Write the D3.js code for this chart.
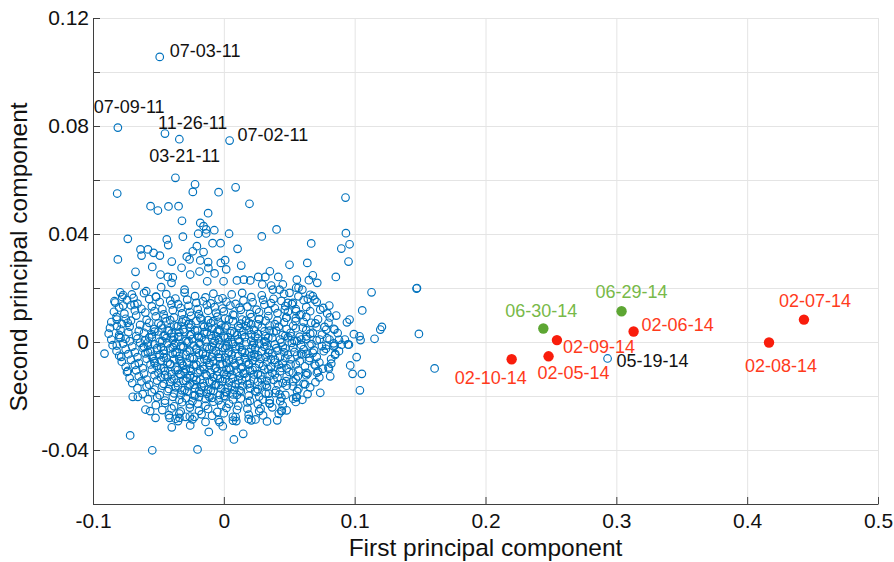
<html>
  <head>
    <style>
      body {
        margin: 0;
        background: #fff;
        font-family: "Liberation Sans", Arial, Helvetica, sans-serif;
      }
      svg {
        display: block;
      }
      .grid line {
        stroke: #e4e4e4;
        stroke-width: 1;
      }
      .axis path,
      .axis line {
        stroke: #3f3f3f;
      }
      .axis text {
        font-size: 21px;
        fill: #111;
        font-family: "Liberation Sans", Arial, Helvetica, sans-serif;
      }
      .score {
        fill: none;
        stroke: #0072bd;
        stroke-width: 1.15;
      }
      .axis-title {
        font-size: 24.5px;
        fill: #111;
        text-anchor: middle;
      }
      .date-label {
        font-size: 18px;
      }
    </style>
  </head>
  <body>
    <script src="https://d3js.org/d3.v7.min.js"></script>
    <script>
      // [first PC, second PC] for each day
      const upperScores = [
        [-.037,.0608],[-.022,.0584],[-.0237,.0556],[-.004,.0555],[.009,.0573],[-.0815,.055],
        [.0196,.0512],[-.056,.0503],[-.0504,.0487],[-.0423,.0502],[-.0346,.0503],[-.012,.0477],
        [-.032,.0449],[-.018,.0441],[-.0155,.0429],[-.0135,.0417],[-.0073,.0414],[-.0196,.0401],
        [-.0135,.0402],[.004,.0401],[.0403,.0417],[.029,.0391],[-.0734,.0382],[-.0436,.038],
        [-.0425,.0359],[-.0313,.039],[-.0086,.0366],[-.0025,.0366],[.0105,.0345],[-.081,.0306],
        [-.0637,.0343],[-.058,.0343],[-.0537,.033],[-.0489,.032],[-.0629,.032],[-.0398,.0298],
        [-.0283,.0316],[-.0206,.0355],[-.0237,.0336],[-.0155,.0333],[-.0262,.0306],[-.018,.0302],
        [-.012,.0296],[-.0023,.0293],[.001,.0303],[.0133,.0283],[.0502,.0286],[-.0547,.0278],
        [-.0675,.026],[-.0323,.0275],[-.0186,.0261],[-.0118,.0274],[.0018,.0269],[.0352,.0262],
        [-.0484,.025],[-.0428,.0241],[-.039,.0239],[-.0257,.025],[-.0071,.0254],[.01,.0228],
        [.0153,.0231],[.0263,.0241],[.0317,.0241],[.0416,.0241],[-.0675,.0209],[-.0479,.0203],
        [-.04,.0219],[-.03,.0194],[-.0127,.0225],[-.0002,.0225],[.0202,.0228],[.0294,.0213],
        [.0362,.0209],[.0426,.0194],[.0553,.0201],[-.0836,.0151],[-.0792,.0184],[-.0777,.0167],
        [-.0703,.0176],[-.0593,.0188],[-.0517,.0167],[-.0769,.0135],[-.0683,.0139],[-.0818,.0083],
        [-.0818,.0059],[-.0734,.0071],[-.08,.0018],[-.0751,.0012]
      ];
      const rightScores = [
        [.0668,.0365],[.0898,.0346],[.0961,.0362],[.0953,.0298],[.0638,.0293],[.093,.0535],
        [.0933,.0403],[.0856,.0241],[.068,.0247],[.065,.0229],[.0714,.0219],[.0558,.0231],
        [.0571,.0201],[.06,.0194],[.1129,.0184],[.1473,.0198],[.1476,.02],[.068,.017],
        [.0693,.0157],[.0642,.016],[.0737,.012],[.0806,.0135],[.0859,.0098],[.1058,.0117],
        [.0961,.0083],[.0941,.0073],[.0846,.0046],[.1208,.0056],[.1196,.0046],[.1491,.003],
        [.0994,.0029],[.1037,.0021],[.1045,.0007],[.1152,.0012],[.0925,.0009],[.0956,-.001],
        [.0846,-.0013],[.0783,.0046],[.077,.0056],[.0668,.0071],[.0604,.0053],[.0548,.0077],
        [.0592,.0102],[.0477,.009],[.0466,.012],[.0528,.0145],[.0553,.0114],[.0489,.0145],
        [.0502,.0182],[.0451,.0213],[.0375,.0194],[.063,.0021],[.068,.0034],[.0732,.0009],
        [.0808,.0009],[.0783,-.0013],[.0655,-.0013],[.0592,.0009],[.0515,.0021],[.0948,-.0009],
        [.1015,-.0056],[.0966,-.0087],[.0984,-.0118],[.1055,-.0118],[.104,-.0179],[.1611,-.0098],
        [.0852,-.0044],[.0813,-.0127],[.0821,-.008],[.0757,-.0099],[.0803,-.0099],[.0711,-.0114],
        [.0764,-.0034],[.0839,-.0016],[.0737,-.0188],[.0558,-.0204],[.0622,-.0157],[.0693,-.0083],
        [.0655,-.0059],[.068,-.004],[.06,-.0046],[.063,-.0114],[.0443,-.0254],[.0431,-.0219],
        [.0426,-.0194],[.0344,-.0191],[.0298,-.0213],[.0413,-.0157],[.0477,-.0145],[.0528,-.0164],
        [.0566,-.0127],[.0528,-.0114]
      ];
      const lowerScores = [
        [-.0912,-.0043],[-.0818,-.0013],[-.0784,-.0055],[-.0734,-.0107],[-.0696,-.0203],
        [-.0657,-.0203],[-.0599,-.025],[-.0563,-.0256],[-.0522,-.0281],[-.0716,-.0346],
        [-.0547,-.0401],[-.0201,-.0398],[-.0398,-.0316],[-.0257,-.0309],[-.0115,-.0333],
        [-.0008,-.0312],[-.0033,-.0297],[.0077,-.0361],[.0148,-.034],[.021,-.029],[.0242,-.0287],
        [.0408,-.029],[.0439,-.0256],[-.0415,-.0281],[-.0369,-.0284],[-.0339,-.0281],
        [-.0293,-.0277],[-.0224,-.0277],[.0069,-.0277],[.0095,-.0293],[.0281,-.0247],
        [.035,-.0228],[.0553,-.0204]
      ];
      const coreScores = [
        [-.077,.0174],[-.069,.0163],[-.061,.0181],[-.052,.0168],[-.044,.0177],[-.037,.0161],[-.030,.0183],[-.022,.0170],[-.014,.0165],[-.008,.0179],[-.001,.0162],[.006,.0176],[.014,.0182],[.021,.0166],[.029,.0173],[.038,.0160],[.046,.0178],[.057,.0169],[.066,.0175],
        [-.083,.0146],[-.074,.0155],[-.066,.0142],[-.057,.0159],[-.049,.0148],[-.041,.0153],[-.035,.0140],[-.028,.0157],[-.021,.0145],[-.016,.0151],[-.010,.0143],[-.004,.0158],[.002,.0149],[.009,.0141],[.015,.0154],[.022,.0147],[.030,.0156],[.036,.0144],[.044,.0152],[.052,.0140],[.061,.0155],[.071,.0148],
        [-.080,.0128],[-.071,.0136],[-.063,.0123],[-.055,.0132],[-.047,.0121],[-.040,.0139],[-.033,.0126],[-.027,.0134],[-.020,.0122],[-.013,.0137],[-.007,.0129],[-.001,.0124],[.005,.0135],[.012,.0127],[.018,.0131],[.025,.0120],[.031,.0138],[.039,.0125],[.047,.0133],[.055,.0122],[.063,.0130],[.076,.0126],
        [-.084,.0112],[-.076,.0105],[-.068,.0117],[-.060,.0109],[-.053,.0114],[-.046,.0102],[-.039,.0118],[-.032,.0106],[-.026,.0111],[-.019,.0103],[-.012,.0116],[-.006,.0108],[.000,.0113],[.007,.0101],[.013,.0119],[.020,.0104],[.027,.0110],[.034,.0115],[.041,.0107],[.049,.0112],[.058,.0100],[.066,.0114],[.079,.0106],
        [-.082,.0093],[-.075,.0086],[-.067,.0098],[-.059,.0082],[-.052,.0095],[-.045,.0088],[-.038,.0091],[-.031,.0084],[-.025,.0097],[-.018,.0089],[-.012,.0081],[-.005,.0094],[.001,.0087],[.008,.0099],[.014,.0083],[.021,.0092],[.027,.0085],[.034,.0096],[.041,.0080],[.048,.0090],[.055,.0088],[.063,.0093],[.072,.0084],[.081,.0091],
        [-.086,.0074],[-.078,.0067],[-.071,.0079],[-.064,.0063],[-.057,.0071],[-.050,.0069],[-.044,.0076],[-.038,.0062],[-.032,.0073],[-.027,.0066],[-.021,.0078],[-.016,.0064],[-.010,.0070],[-.004,.0075],[.002,.0061],[.007,.0077],[.013,.0068],[.019,.0072],[.026,.0065],[.032,.0079],[.039,.0066],[.046,.0073],[.053,.0060],[.061,.0074],[.070,.0069],[.080,.0071],
        [-.087,.0052],[-.079,.0046],[-.072,.0057],[-.065,.0041],[-.059,.0055],[-.053,.0048],[-.047,.0050],[-.042,.0043],[-.036,.0058],[-.031,.0047],[-.026,.0053],[-.020,.0042],[-.015,.0056],[-.009,.0049],[-.004,.0044],[.001,.0054],[.006,.0040],[.012,.0051],[.017,.0059],[.023,.0045],[.029,.0053],[.035,.0042],[.042,.0057],[.048,.0048],[.055,.0051],[.063,.0044],[.071,.0055],[.084,.0049],
        [-.088,.0031],[-.080,.0026],[-.073,.0036],[-.067,.0022],[-.061,.0034],[-.055,.0028],[-.050,.0039],[-.045,.0024],[-.040,.0032],[-.035,.0020],[-.030,.0037],[-.025,.0029],[-.020,.0023],[-.015,.0035],[-.010,.0027],[-.005,.0038],[.000,.0021],[.005,.0033],[.010,.0025],[.015,.0039],[.021,.0028],[.026,.0030],[.032,.0022],[.038,.0036],[.045,.0026],[.051,.0034],[.058,.0020],[.066,.0031],[.075,.0027],[.087,.0033],
        [-.086,.0009],[-.079,.0015],[-.072,.0003],[-.066,.0012],[-.060,.0006],[-.055,.0018],[-.049,.0001],[-.044,.0014],[-.039,.0008],[-.034,.0019],[-.029,.0004],[-.024,.0011],[-.019,.0017],[-.014,.0002],[-.009,.0013],[-.004,.0007],[.001,.0016],[.006,.0000],[.011,.0010],[.016,.0018],[.021,.0005],[.026,.0013],[.031,.0002],[.037,.0015],[.043,.0009],[.049,.0017],[.056,.0004],[.063,.0011],[.071,.0006],[.079,.0014],[.088,.0008],
        [-.085,-.0012],[-.077,-.0006],[-.070,-.0017],[-.064,-.0003],[-.058,-.0014],[-.053,-.0009],[-.048,-.0019],[-.043,-.0005],[-.038,-.0011],[-.033,-.0016],[-.028,-.0002],[-.023,-.0013],[-.018,-.0008],[-.013,-.0018],[-.008,-.0004],[-.003,-.0010],[.002,-.0015],[.007,-.0007],[.012,-.0019],[.017,-.0001],[.022,-.0012],[.027,-.0006],[.033,-.0014],[.039,-.0009],[.045,-.0017],[.052,-.0003],[.059,-.0011],[.067,-.0008],[.075,-.0015],[.084,-.0005],[.090,-.0010],
        [-.082,-.0033],[-.075,-.0027],[-.068,-.0038],[-.062,-.0022],[-.056,-.0035],[-.051,-.0029],[-.046,-.0031],[-.041,-.0024],[-.036,-.0037],[-.031,-.0020],[-.026,-.0032],[-.021,-.0028],[-.016,-.0039],[-.011,-.0025],[-.006,-.0034],[-.001,-.0021],[.004,-.0036],[.009,-.0026],[.014,-.0030],[.019,-.0038],[.024,-.0023],[.029,-.0035],[.035,-.0029],[.041,-.0032],[.047,-.0024],[.054,-.0037],[.061,-.0027],[.069,-.0031],[.078,-.0025],[.088,-.0034],
        [-.080,-.0051],[-.073,-.0045],[-.066,-.0056],[-.060,-.0042],[-.055,-.0054],[-.049,-.0048],[-.044,-.0059],[-.039,-.0043],[-.034,-.0052],[-.029,-.0047],[-.024,-.0057],[-.019,-.0041],[-.014,-.0050],[-.009,-.0055],[-.004,-.0044],[.001,-.0058],[.006,-.0046],[.011,-.0053],[.016,-.0040],[.021,-.0051],[.026,-.0049],[.032,-.0056],[.037,-.0042],[.043,-.0054],[.049,-.0047],[.056,-.0050],[.063,-.0044],[.071,-.0055],[.085,-.0048],
        [-.078,-.0073],[-.071,-.0066],[-.065,-.0078],[-.059,-.0062],[-.053,-.0071],[-.048,-.0069],[-.043,-.0076],[-.038,-.0064],[-.033,-.0070],[-.028,-.0079],[-.023,-.0063],[-.018,-.0074],[-.013,-.0067],[-.008,-.0072],[-.003,-.0061],[.002,-.0077],[.007,-.0065],[.012,-.0070],[.017,-.0075],[.022,-.0068],[.028,-.0062],[.033,-.0073],[.039,-.0066],[.045,-.0079],[.051,-.0064],[.058,-.0071],[.065,-.0069],[.073,-.0076],[.082,-.0063],
        [-.075,-.0092],[-.068,-.0085],[-.062,-.0097],[-.056,-.0083],[-.051,-.0090],[-.046,-.0096],[-.041,-.0081],[-.036,-.0094],[-.031,-.0088],[-.026,-.0099],[-.021,-.0084],[-.016,-.0091],[-.011,-.0086],[-.006,-.0095],[-.001,-.0082],[.004,-.0098],[.009,-.0087],[.014,-.0093],[.019,-.0080],[.024,-.0096],[.030,-.0089],[.036,-.0092],[.042,-.0085],[.048,-.0097],[.055,-.0083],[.062,-.0090],[.070,-.0088],[.080,-.0094],
        [-.074,-.0111],[-.067,-.0105],[-.061,-.0117],[-.055,-.0102],[-.050,-.0114],[-.045,-.0108],[-.040,-.0119],[-.035,-.0104],[-.030,-.0112],[-.025,-.0107],[-.020,-.0116],[-.015,-.0101],[-.010,-.0113],[-.005,-.0109],[.000,-.0118],[.005,-.0103],[.010,-.0110],[.015,-.0115],[.020,-.0106],[.026,-.0119],[.031,-.0102],[.037,-.0114],[.043,-.0108],[.050,-.0111],[.057,-.0105],[.064,-.0117],[.072,-.0109],
        [-.072,-.0134],[-.065,-.0127],[-.059,-.0139],[-.053,-.0123],[-.048,-.0131],[-.043,-.0128],[-.038,-.0136],[-.033,-.0121],[-.028,-.0133],[-.023,-.0129],[-.018,-.0138],[-.013,-.0124],[-.008,-.0130],[-.003,-.0137],[.002,-.0122],[.007,-.0135],[.012,-.0126],[.017,-.0132],[.023,-.0120],[.029,-.0139],[.035,-.0125],[.041,-.0133],[.048,-.0128],[.055,-.0136],[.063,-.0123],[.073,-.0131],
        [-.070,-.0152],[-.063,-.0146],[-.057,-.0158],[-.051,-.0143],[-.046,-.0155],[-.041,-.0149],[-.036,-.0151],[-.031,-.0144],[-.026,-.0157],[-.021,-.0141],[-.016,-.0153],[-.011,-.0148],[-.006,-.0159],[-.001,-.0145],[.004,-.0150],[.009,-.0156],[.014,-.0142],[.020,-.0154],[.026,-.0147],[.032,-.0158],[.038,-.0140],[.045,-.0152],[.053,-.0146],[.061,-.0155],[.070,-.0149],
        [-.066,-.0171],[-.059,-.0165],[-.053,-.0176],[-.047,-.0162],[-.042,-.0174],[-.037,-.0168],[-.032,-.0179],[-.027,-.0164],[-.022,-.0172],[-.017,-.0167],[-.012,-.0177],[-.007,-.0161],[-.002,-.0173],[.003,-.0169],[.008,-.0178],[.014,-.0163],[.020,-.0170],[.026,-.0175],[.033,-.0166],[.040,-.0179],[.048,-.0162],[.057,-.0173],[.066,-.0168],
        [-.062,-.0193],[-.055,-.0186],[-.049,-.0197],[-.043,-.0182],[-.038,-.0190],[-.033,-.0195],[-.028,-.0184],[-.023,-.0198],[-.018,-.0188],[-.013,-.0192],[-.008,-.0181],[-.003,-.0196],[.002,-.0187],[.007,-.0194],[.013,-.0183],[.019,-.0199],[.025,-.0185],[.032,-.0191],[.039,-.0189],[.047,-.0196],[.056,-.0182],[.064,-.0193],
        [-.058,-.0212],[-.051,-.0205],[-.045,-.0217],[-.039,-.0203],[-.034,-.0214],[-.029,-.0208],[-.024,-.0219],[-.019,-.0204],[-.014,-.0211],[-.009,-.0207],[-.004,-.0216],[.001,-.0201],[.007,-.0213],[.013,-.0209],[.020,-.0218],[.027,-.0202],[.035,-.0215],[.044,-.0206],[.053,-.0210],[.060,-.0214],
        [-.052,-.0234],[-.045,-.0226],[-.038,-.0238],[-.032,-.0223],[-.026,-.0231],[-.020,-.0228],[-.014,-.0236],[-.008,-.0221],[-.002,-.0233],[.004,-.0229],[.011,-.0237],[.018,-.0224],[.026,-.0230],[.035,-.0227],[.045,-.0235],[.055,-.0222],
        [-.047,-.0252],[-.040,-.0246],[-.033,-.0257],[-.026,-.0243],[-.019,-.0255],[-.012,-.0248],[-.005,-.0259],[.002,-.0244],[.010,-.0251],[.018,-.0247],[.027,-.0256],[.037,-.0242],[.048,-.0253],
        [-.042,-.0271],[-.034,-.0265],[-.026,-.0276],[-.017,-.0268],[-.009,-.0273],[.000,-.0264],[.009,-.0278],[.019,-.0269],[.030,-.0272],[.042,-.0266],
        [-.035,-.0293],[-.024,-.0287],[-.014,-.0296],[-.004,-.0289],[.007,-.0291],[.019,-.0285],[.033,-.0294],
        [-.041,.0081],[-.029,.0078],[-.017,.0084],[-.008,.0077],[.004,.0083],[.017,.0079],[.027,.0085],
        [-.048,.0062],[-.035,.0058],[-.025,.0064],[-.012,.0057],[-.002,.0063],[.011,.0059],[.021,.0065],[.035,.0061],
        [-.053,.0038],[-.043,.0042],[-.034,.0036],[-.022,.0043],[-.013,.0037],[-.003,.0041],[.008,.0035],[.019,.0044],[.031,.0039],[.040,.0042],
        [-.057,.0017],[-.046,.0023],[-.038,.0019],[-.026,.0024],[-.017,.0016],[-.006,.0022],[.003,.0018],[.014,.0025],[.024,.0021],[.034,.0016],[.047,.0023],
        [-.058,-.0002],[-.047,.0003],[-.037,-.0004],[-.027,.0002],[-.019,-.0003],[-.007,.0004],[.003,-.0001],[.012,.0003],[.023,-.0004],[.032,.0001],[.044,-.0002],[.054,.0004],
        [-.061,-.0018],[-.051,-.0023],[-.039,-.0021],[-.031,-.0017],[-.021,-.0024],[-.009,-.0019],[.001,-.0022],[.009,-.0016],[.021,-.0025],[.031,-.0018],[.040,-.0023],[.053,-.0020],
        [-.058,-.0038],[-.046,-.0043],[-.037,-.0041],[-.028,-.0036],[-.016,-.0044],[-.008,-.0039],[.003,-.0042],[.014,-.0037],[.023,-.0045],[.034,-.0040],[.046,-.0038],[.059,-.0043],
        [-.054,-.0062],[-.046,-.0058],[-.034,-.0064],[-.026,-.0059],[-.015,-.0063],[-.004,-.0057],[.004,-.0065],[.016,-.0060],[.024,-.0056],[.036,-.0063],[.047,-.0059],
        [-.053,-.0078],[-.041,-.0083],[-.032,-.0080],[-.023,-.0085],[-.011,-.0077],[-.003,-.0082],[.008,-.0079],[.019,-.0084],[.027,-.0081],[.039,-.0076],[.051,-.0083],
        [-.048,-.0098],[-.037,-.0103],[-.029,-.0100],[-.018,-.0105],[-.007,-.0097],[.002,-.0102],[.013,-.0099],[.022,-.0104],[.034,-.0101],[.044,-.0096],
        [-.045,-.0122],[-.034,-.0118],[-.026,-.0124],[-.014,-.0119],[-.005,-.0125],[.006,-.0121],[.016,-.0117],[.028,-.0123],[.039,-.0120],
        [-.040,-.0138],[-.029,-.0143],[-.021,-.0140],[-.009,-.0145],[.001,-.0137],[.011,-.0142],[.023,-.0139],[.033,-.0144],
        [-.035,-.0162],[-.023,-.0158],[-.015,-.0164],[-.004,-.0159],[.006,-.0163],[.018,-.0157],[.029,-.0161],
        [-.030,-.0178],[-.019,-.0183],[-.010,-.0180],[.001,-.0185],[.012,-.0179],[.024,-.0182],
        [-.022,-.0198],[-.011,-.0203],[.000,-.0200],[.010,-.0196]
      ];

      // labelled days
      const blueDates = ["07-03-11", "07-09-11", "11-26-11", "03-21-11", "07-02-11", "05-19-14"];
      const blueScores = [[-.049,.1056],[-.081,.0794],[-.045,.0772],[-.034,.0751],[.0044,.0746],[.2933,-.0061]];
      const greenDates = ["06-29-14", "06-30-14"];
      const greenScores = [[.304,.0114],[.2442,.005]];
      const redDates = ["02-07-14", "02-06-14", "02-08-14", "02-09-14", "02-05-14", "02-10-14"];
      const redScores = [[.4434,.0083],[.3132,.0039],[.4167,-.0002],[.2546,.0007],[.2482,-.0053],[.22,-.0064]];

      const xTicks = [-0.1, 0, 0.1, 0.2, 0.3, 0.4, 0.5];
      const xTickLabels = ["-0.1", "0", "0.1", "0.2", "0.3", "0.4", "0.5"];
      const yTicks = [-0.06, -0.04, -0.02, 0, 0.02, 0.04, 0.06, 0.08, 0.1, 0.12];
      const yTickLabels = ["", "-0.04", "", "0", "", "0.04", "", "0.08", "", "0.12"];

      // text placement next to each labelled point: [dx, dy, anchor]
      const labelOffset = {
        "07-03-11": [10, 0, "start"],
        "07-09-11": [-24, -15, "start"],
        "11-26-11": [-7, -5, "start"],
        "03-21-11": [-30, 23, "start"],
        "07-02-11": [8, 0, "start"],
        "05-19-14": [9, 9, "start"],
        "06-29-14": [-26, -13, "start"],
        "06-30-14": [-38, -12, "start"],
        "02-07-14": [-25, -13, "start"],
        "02-06-14": [8, 0, "start"],
        "02-08-14": [-24, 29, "start"],
        "02-09-14": [6, 13, "start"],
        "02-05-14": [-11, 23, "start"],
        "02-10-14": [-57, 25, "start"],
      };

      const width = 894,
        height = 562;
      const plotLeft = 93,
        plotRight = 878,
        plotTop = 18,
        plotBottom = 504;

      const x = d3.scaleLinear().domain([-0.1, 0.5]).range([plotLeft, plotRight]);
      const y = d3.scaleLinear().domain([-0.06, 0.12]).range([plotBottom, plotTop]);

      const svg = d3
        .select("body")
        .append("svg")
        .attr("width", width)
        .attr("height", height);

      const grid = svg.append("g").attr("class", "grid");
      grid
        .selectAll(".gx")
        .data(xTicks)
        .join("line")
        .attr("x1", (d) => x(d) + 0.5)
        .attr("x2", (d) => x(d) + 0.5)
        .attr("y1", plotTop)
        .attr("y2", plotBottom);
      grid
        .selectAll(".gy")
        .data(yTicks)
        .join("line")
        .attr("x1", plotLeft)
        .attr("x2", plotRight)
        .attr("y1", (d) => y(d) + 0.5)
        .attr("y2", (d) => y(d) + 0.5);

      const allScores = upperScores.concat(coreScores, rightScores, lowerScores, blueScores);

      svg
        .append("g")
        .selectAll("circle")
        .data(allScores)
        .join("circle")
        .attr("class", "score")
        .attr("cx", (d) => x(d[0]))
        .attr("cy", (d) => y(d[1]))
        .attr("r", 3.8);

      const dots = svg.append("g");
      dots
        .selectAll(".green")
        .data(greenScores)
        .join("circle")
        .attr("cx", (d) => x(d[0]))
        .attr("cy", (d) => y(d[1]))
        .attr("r", 5.2)
        .attr("fill", "#5da633");
      dots
        .selectAll(".red")
        .data(redScores)
        .join("circle")
        .attr("cx", (d) => x(d[0]))
        .attr("cy", (d) => y(d[1]))
        .attr("r", 5.2)
        .attr("fill", "#f91d0c");

      const labels = svg.append("g").attr("class", "date-label");
      function addLabels(dates, scores, color) {
        dates.forEach((date, idx) => {
          const off = labelOffset[date];
          labels
            .append("text")
            .attr("x", x(scores[idx][0]) + off[0])
            .attr("y", y(scores[idx][1]) + off[1])
            .attr("text-anchor", off[2])
            .attr("fill", color)
            .text(date);
        });
      }
      addLabels(blueDates, blueScores, "#111");
      addLabels(greenDates, greenScores, "#78b948");
      addLabels(redDates, redScores, "#ff3a1c");

      svg
        .append("g")
        .attr("class", "axis")
        .attr("transform", `translate(${plotLeft},0)`)
        .call(
          d3
            .axisLeft(y)
            .tickValues(yTicks)
            .tickFormat((d, i) => yTickLabels[i])
            .tickSizeInner(-7)
            .tickSizeOuter(0)
            .tickPadding(4)
        );

      svg
        .append("g")
        .attr("class", "axis")
        .attr("transform", `translate(0,${plotBottom})`)
        .call(
          d3
            .axisBottom(x)
            .tickValues(xTicks)
            .tickFormat((d, i) => xTickLabels[i])
            .tickSizeInner(-7)
            .tickSizeOuter(0)
            .tickPadding(9)
        );

      svg
        .append("text")
        .attr("class", "axis-title")
        .attr("x", (plotLeft + plotRight) / 2)
        .attr("y", 556)
        .text("First principal component");

      svg
        .append("text")
        .attr("class", "axis-title")
        .attr("transform", `translate(27,${(plotTop + plotBottom) / 2 - 4}) rotate(-90)`)
        .text("Second principal component");
    </script>
  </body>
</html>
